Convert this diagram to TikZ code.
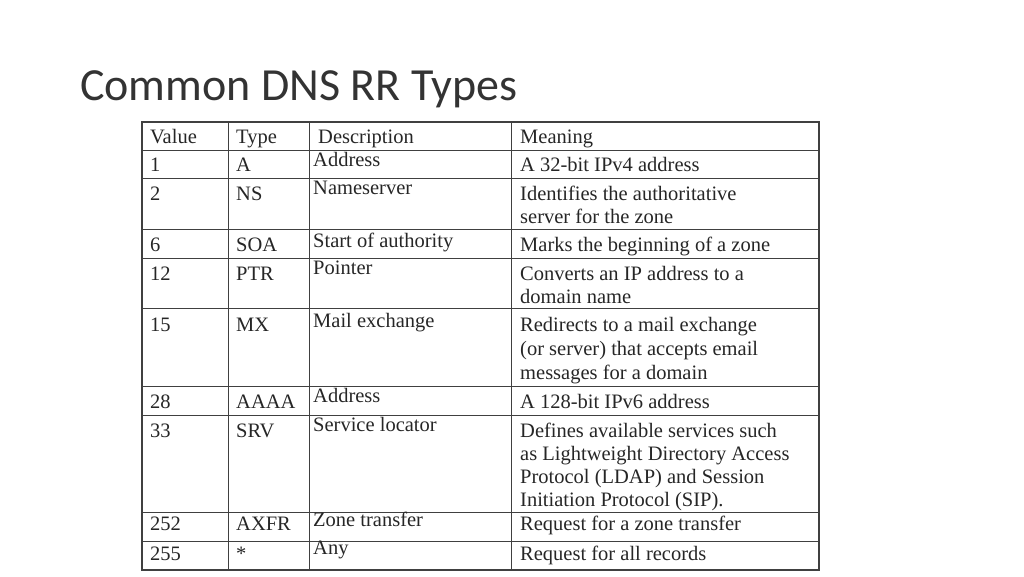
\documentclass[tikz,border=0pt]{standalone}
\usepackage{fontspec}
\setmainfont{Liberation Serif}
\newfontfamily\titlefont{Carlito}
\begin{document}
\begin{tikzpicture}[x=1pt,y=-1pt,
  cell/.style={anchor=base west,inner sep=0pt,font=\fontsize{20.5}{20.5}\selectfont,text=black!85}]
\useasboundingbox (0,0) rectangle (1024,576);
\node[anchor=base west,inner sep=0pt,font=\titlefont\fontsize{46}{46}\selectfont,text=black!80] (title) at (80,100) {Common DNS RR Types};
\draw[line width=1.2pt,black!75] (142,122) rectangle (819,570);
\foreach \y in {150,178,229,258,308,386,415,512,541} \draw[line width=1pt,black!75] (142,\y) -- (819,\y);
\foreach \x in {228,309,511} \draw[line width=1pt,black!75] (\x,122) -- (\x,570);
\node[cell] (h1) at (150,143) {Value};
\node[cell] (h2) at (236,143) {Type};
\node[cell] (h3) at (318,143) {Description};
\node[cell] (h4) at (520,143) {Meaning};
\foreach \v/\t/\d/\b/\db/\n in {1/A/Address/171/166/a,2/NS/Nameserver/200/194/b,6/SOA/Start of authority/251/247/c,12/PTR/Pointer/280/274/d,15/MX/Mail exchange/331/327/e,28/AAAA/Address/408/402/f,33/SRV/Service locator/437/431/g,252/AXFR/Zone transfer/530/526/h,255/*/Any/560/554/i}{
  \node[cell] (v\n) at (150,\b) {\v};
  \node[cell] (t\n) at (236,\b) {\t};
  \node[cell] (d\n) at (313,\db) {\d};
}
\node[cell] (ma) at (520,171) {A 32-bit IPv4 address};
\node[cell] (mb1) at (520,200) {Identifies the authoritative};
\node[cell] (mb2) at (520,223) {server for the zone};
\node[cell] (mc) at (520,251) {Marks the beginning of a zone};
\node[cell] (md1) at (520,280) {Converts an IP address to a};
\node[cell] (md2) at (520,303) {domain name};
\node[cell] (me1) at (520,331) {Redirects to a mail exchange};
\node[cell] (me2) at (520,355) {(or server) that accepts email};
\node[cell] (me3) at (520,379) {messages for a domain};
\node[cell] (mf) at (520,408) {A 128-bit IPv6 address};
\node[cell] (mg1) at (520,437) {Defines available services such};
\node[cell] (mg2) at (520,460) {as Lightweight Directory Access};
\node[cell] (mg3) at (520,483) {Protocol (LDAP) and Session};
\node[cell] (mg4) at (520,506) {Initiation Protocol (SIP).};
\node[cell] (mh) at (520,530) {Request for a zone transfer};
\node[cell] (mi) at (520,560) {Request for all records};
\end{tikzpicture}
\end{document}
